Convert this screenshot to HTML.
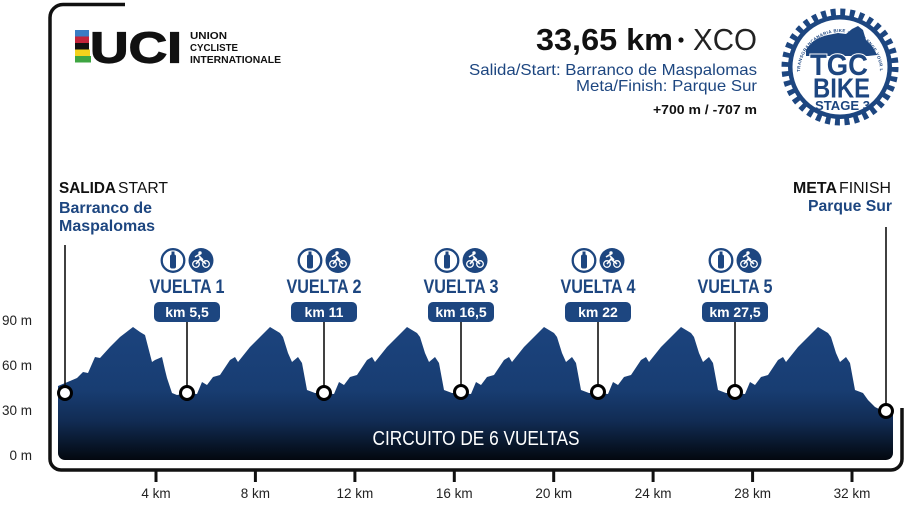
<!DOCTYPE html>
<html>
<head>
<meta charset="utf-8">
<style>
  html,body{margin:0;padding:0;background:#fff;}
  svg{display:block;}
  text{font-family:"Liberation Sans", sans-serif;}
</style>
</head>
<body>
<svg width="909" height="509" viewBox="0 0 909 509" xmlns="http://www.w3.org/2000/svg">
  <defs>
    <linearGradient id="g" x1="0" y1="320" x2="0" y2="460" gradientUnits="userSpaceOnUse">
      <stop offset="0" stop-color="#1c447f"/>
      <stop offset="0.5" stop-color="#183d72"/>
      <stop offset="0.72" stop-color="#112c54"/>
      <stop offset="1" stop-color="#03080f"/>
    </linearGradient>
    <clipPath id="cp">
      <rect x="58" y="290" width="835" height="170" rx="7"/>
    </clipPath>
    <path id="arc" d="M 800 72 A 40 40 0 1 1 880 72"/>
  </defs>

  <!-- frame -->
  <path d="M125 4.5 H63 A13 13 0 0 0 50 17.5 V459 A11 11 0 0 0 61 470 H891 A11 11 0 0 0 902 459 V408" fill="none" stroke="#111" stroke-width="3.5"/>

  <!-- ticks -->
  <g stroke="#111" stroke-width="3">
    <line x1="156" y1="470" x2="156" y2="482"/>
    <line x1="255.4" y1="470" x2="255.4" y2="482"/>
    <line x1="354.9" y1="470" x2="354.9" y2="482"/>
    <line x1="454.3" y1="470" x2="454.3" y2="482"/>
    <line x1="553.7" y1="470" x2="553.7" y2="482"/>
    <line x1="653.1" y1="470" x2="653.1" y2="482"/>
    <line x1="752.6" y1="470" x2="752.6" y2="482"/>
    <line x1="852" y1="470" x2="852" y2="482"/>
  </g>
  <g font-size="13.5" fill="#222" text-anchor="middle">
    <text x="156" y="498">4 km</text>
    <text x="255.4" y="498">8 km</text>
    <text x="354.9" y="498">12 km</text>
    <text x="454.3" y="498">16 km</text>
    <text x="553.7" y="498">20 km</text>
    <text x="653.1" y="498">24 km</text>
    <text x="752.6" y="498">28 km</text>
    <text x="852" y="498">32 km</text>
  </g>
  <g font-size="13.5" fill="#222" text-anchor="end">
    <text x="32" y="325">90 m</text>
    <text x="32" y="370">60 m</text>
    <text x="32" y="415">30 m</text>
    <text x="32" y="460">0 m</text>
  </g>

  <!-- profile -->
  <g clip-path="url(#cp)">
    <path fill="url(#g)" d="M58 386 L70 381 L77 378 L83 372 L88 373 L95 357 L100 358 L110 347 L120 337 L133 327 L140 332 L145 335 L152 362 L155 360 L162 357 L165 370 L167 378 L172 393 L177 395 L187 393
    L197 394 L202 382 L207 385 L213 377 L220 375 L230 360 L235 357 L238 362 L250 347 L260 337 L270 327 L280 333 L283 337 L288 353 L292 362 L298 357 L302 363 L307 390 L315 393 L324 393
    L334 394 L339 382 L344 385 L350 377 L357 375 L367 360 L372 357 L375 362 L387 347 L397 337 L407 327 L417 333 L420 337 L425 353 L429 362 L435 357 L439 363 L444 390 L452 393 L461 393
    L471 394 L476 382 L481 385 L487 377 L494 375 L504 360 L509 357 L512 362 L524 347 L534 337 L544 327 L554 333 L557 337 L562 353 L566 362 L572 357 L576 363 L581 390 L589 393 L598 393
    L608 394 L613 382 L618 385 L624 377 L631 375 L641 360 L646 357 L649 362 L661 347 L671 337 L681 327 L691 333 L694 337 L699 353 L703 362 L709 357 L713 363 L718 390 L726 393 L735 393
    L745 394 L750 382 L755 385 L761 377 L768 375 L778 360 L783 357 L786 362 L798 347 L808 337 L818 327 L828 333 L831 337 L836 353 L840 362 L846 357 L850 363 L855 390 L863 393 L868 400 L875 407 L885 412 L893 413
    L893 470 L58 470 Z"/>
  </g>
  <text x="372.5" y="445" font-size="20" fill="#fff" textLength="207" lengthAdjust="spacingAndGlyphs">CIRCUITO DE 6 VUELTAS</text>

  <!-- marker lines -->
  <g stroke="#111" stroke-width="1.6">
    <line x1="65" y1="245" x2="65" y2="388"/>
    <line x1="187" y1="322" x2="187" y2="388"/>
    <line x1="324" y1="322" x2="324" y2="388"/>
    <line x1="461" y1="322" x2="461" y2="388"/>
    <line x1="598" y1="322" x2="598" y2="388"/>
    <line x1="735" y1="322" x2="735" y2="388"/>
    <line x1="886" y1="227" x2="886" y2="405"/>
  </g>
  <g fill="#fff" stroke="#000" stroke-width="3">
    <circle cx="65" cy="393" r="6.5"/>
    <circle cx="187" cy="393" r="6.5"/>
    <circle cx="324" cy="393" r="6.5"/>
    <circle cx="461" cy="392" r="6.5"/>
    <circle cx="598" cy="392" r="6.5"/>
    <circle cx="735" cy="392" r="6.5"/>
    <circle cx="886" cy="411" r="6.5"/>
  </g>

  <!-- badges -->
  <g fill="#1d4680">
    <rect x="154" y="302" width="66" height="20" rx="5"/>
    <rect x="291" y="302" width="66" height="20" rx="5"/>
    <rect x="428" y="302" width="66" height="20" rx="5"/>
    <rect x="565" y="302" width="66" height="20" rx="5"/>
    <rect x="702" y="302" width="66" height="20" rx="5"/>
  </g>
  <g font-size="14" font-weight="bold" fill="#fff" text-anchor="middle">
    <text x="187" y="317">km 5,5</text>
    <text x="324" y="317">km 11</text>
    <text x="461" y="317">km 16,5</text>
    <text x="598" y="317">km 22</text>
    <text x="735" y="317">km 27,5</text>
  </g>
  <g font-size="19" font-weight="bold" fill="#1d4680">
    <text x="149.5" y="293" textLength="75" lengthAdjust="spacingAndGlyphs">VUELTA 1</text>
    <text x="286.5" y="293" textLength="75" lengthAdjust="spacingAndGlyphs">VUELTA 2</text>
    <text x="423.5" y="293" textLength="75" lengthAdjust="spacingAndGlyphs">VUELTA 3</text>
    <text x="560.5" y="293" textLength="75" lengthAdjust="spacingAndGlyphs">VUELTA 4</text>
    <text x="697.5" y="293" textLength="75" lengthAdjust="spacingAndGlyphs">VUELTA 5</text>
  </g>

  <!-- icons -->
  <g>
    <circle cx="173" cy="260.5" r="11.3" fill="#fff" stroke="#1d4680" stroke-width="2.3"/>
    <rect x="170" y="254.5" width="6" height="14" rx="2" fill="#1d4680"/>
    <rect x="171.5" y="251.5" width="3" height="4" fill="#1d4680"/>
    <circle cx="201" cy="260.5" r="12.5" fill="#1d4680"/>
    <circle cx="196" cy="264" r="3.3" fill="none" stroke="#fff" stroke-width="1.3"/>
    <circle cx="206" cy="264" r="3.3" fill="none" stroke="#fff" stroke-width="1.3"/>
    <path d="M196 264 L200 259 L206 264 M199 256 L203 260 M195 257 L200 254" fill="none" stroke="#fff" stroke-width="1.6"/>
    <circle cx="200" cy="253" r="1.7" fill="#fff"/>
  </g>
  <g transform="translate(137 0)">
    <circle cx="173" cy="260.5" r="11.3" fill="#fff" stroke="#1d4680" stroke-width="2.3"/>
    <rect x="170" y="254.5" width="6" height="14" rx="2" fill="#1d4680"/>
    <rect x="171.5" y="251.5" width="3" height="4" fill="#1d4680"/>
    <circle cx="201" cy="260.5" r="12.5" fill="#1d4680"/>
    <circle cx="196" cy="264" r="3.3" fill="none" stroke="#fff" stroke-width="1.3"/>
    <circle cx="206" cy="264" r="3.3" fill="none" stroke="#fff" stroke-width="1.3"/>
    <path d="M196 264 L200 259 L206 264 M199 256 L203 260 M195 257 L200 254" fill="none" stroke="#fff" stroke-width="1.6"/>
    <circle cx="200" cy="253" r="1.7" fill="#fff"/>
  </g>
  <g transform="translate(274 0)">
    <circle cx="173" cy="260.5" r="11.3" fill="#fff" stroke="#1d4680" stroke-width="2.3"/>
    <rect x="170" y="254.5" width="6" height="14" rx="2" fill="#1d4680"/>
    <rect x="171.5" y="251.5" width="3" height="4" fill="#1d4680"/>
    <circle cx="201" cy="260.5" r="12.5" fill="#1d4680"/>
    <circle cx="196" cy="264" r="3.3" fill="none" stroke="#fff" stroke-width="1.3"/>
    <circle cx="206" cy="264" r="3.3" fill="none" stroke="#fff" stroke-width="1.3"/>
    <path d="M196 264 L200 259 L206 264 M199 256 L203 260 M195 257 L200 254" fill="none" stroke="#fff" stroke-width="1.6"/>
    <circle cx="200" cy="253" r="1.7" fill="#fff"/>
  </g>
  <g transform="translate(411 0)">
    <circle cx="173" cy="260.5" r="11.3" fill="#fff" stroke="#1d4680" stroke-width="2.3"/>
    <rect x="170" y="254.5" width="6" height="14" rx="2" fill="#1d4680"/>
    <rect x="171.5" y="251.5" width="3" height="4" fill="#1d4680"/>
    <circle cx="201" cy="260.5" r="12.5" fill="#1d4680"/>
    <circle cx="196" cy="264" r="3.3" fill="none" stroke="#fff" stroke-width="1.3"/>
    <circle cx="206" cy="264" r="3.3" fill="none" stroke="#fff" stroke-width="1.3"/>
    <path d="M196 264 L200 259 L206 264 M199 256 L203 260 M195 257 L200 254" fill="none" stroke="#fff" stroke-width="1.6"/>
    <circle cx="200" cy="253" r="1.7" fill="#fff"/>
  </g>
  <g transform="translate(548 0)">
    <circle cx="173" cy="260.5" r="11.3" fill="#fff" stroke="#1d4680" stroke-width="2.3"/>
    <rect x="170" y="254.5" width="6" height="14" rx="2" fill="#1d4680"/>
    <rect x="171.5" y="251.5" width="3" height="4" fill="#1d4680"/>
    <circle cx="201" cy="260.5" r="12.5" fill="#1d4680"/>
    <circle cx="196" cy="264" r="3.3" fill="none" stroke="#fff" stroke-width="1.3"/>
    <circle cx="206" cy="264" r="3.3" fill="none" stroke="#fff" stroke-width="1.3"/>
    <path d="M196 264 L200 259 L206 264 M199 256 L203 260 M195 257 L200 254" fill="none" stroke="#fff" stroke-width="1.6"/>
    <circle cx="200" cy="253" r="1.7" fill="#fff"/>
  </g>

  <!-- start / finish labels -->
  <text x="59" y="193" font-size="16" font-weight="bold" fill="#111" textLength="57" lengthAdjust="spacingAndGlyphs">SALIDA</text>
  <text x="118" y="193" font-size="16" fill="#111" textLength="50" lengthAdjust="spacingAndGlyphs">START</text>
  <text x="59" y="213" font-size="15.5" font-weight="bold" fill="#1d4680" textLength="93" lengthAdjust="spacingAndGlyphs">Barranco de</text>
  <text x="59" y="231" font-size="15.5" font-weight="bold" fill="#1d4680" textLength="96" lengthAdjust="spacingAndGlyphs">Maspalomas</text>

  <text x="793" y="193" font-size="16" font-weight="bold" fill="#111" textLength="44" lengthAdjust="spacingAndGlyphs">META</text>
  <text x="839" y="193" font-size="16" fill="#111" textLength="52" lengthAdjust="spacingAndGlyphs">FINISH</text>
  <text x="808" y="211" font-size="15.5" font-weight="bold" fill="#1d4680" textLength="84" lengthAdjust="spacingAndGlyphs">Parque Sur</text>

  <!-- title -->
  <text x="536" y="50" font-size="31" font-weight="bold" fill="#111" textLength="137" lengthAdjust="spacingAndGlyphs">33,65 km</text>
  <circle cx="681" cy="40" r="2.6" fill="#111"/>
  <text x="693" y="50" font-size="31" fill="#222" textLength="64" lengthAdjust="spacingAndGlyphs">XCO</text>
  <text x="469" y="75" font-size="16" fill="#1d4680" textLength="288" lengthAdjust="spacingAndGlyphs">Salida/Start: Barranco de Maspalomas</text>
  <text x="576" y="91" font-size="16" fill="#1d4680" textLength="181" lengthAdjust="spacingAndGlyphs">Meta/Finish: Parque Sur</text>
  <text x="653" y="114" font-size="12.5" font-weight="bold" fill="#111" textLength="104" lengthAdjust="spacingAndGlyphs">+700 m / -707 m</text>

  <!-- UCI logo -->
  <rect x="75" y="30" width="14" height="6.5" fill="#3a7dc4"/>
  <rect x="75" y="36.5" width="14" height="6.5" fill="#c3243a"/>
  <rect x="75" y="43" width="14" height="6.5" fill="#111"/>
  <rect x="75" y="49.5" width="15" height="6.5" fill="#f3d21c"/>
  <rect x="75" y="56" width="16" height="6.5" fill="#3ea542"/>
  <text x="90" y="62.5" font-size="44" font-weight="bold" fill="#111" stroke="#111" stroke-width="1.2" textLength="92" lengthAdjust="spacingAndGlyphs">UCI</text>
  <g font-size="10.5" font-weight="bold" fill="#111">
    <text x="190" y="39" textLength="37" lengthAdjust="spacingAndGlyphs">UNION</text>
    <text x="190" y="51" textLength="48" lengthAdjust="spacingAndGlyphs">CYCLISTE</text>
    <text x="190" y="63" textLength="91" lengthAdjust="spacingAndGlyphs">INTERNATIONALE</text>
  </g>

  <!-- TGC BIKE logo -->
  <circle cx="840" cy="67" r="52" fill="#1d4680"/>
  <circle cx="840" cy="67" r="55" fill="none" stroke="#1d4680" stroke-width="7" stroke-dasharray="5 4.6"/>
  <circle cx="840" cy="67" r="47.5" fill="#fff"/>
  <text font-size="4.4" font-weight="bold" fill="#1d4680" letter-spacing="0.4"><textPath href="#arc">TRANSGRANCANARIA BIKE · CHALLENGE YOUR LIMITS</textPath></text>
  <path d="M806 50 C811 42 818 37 828 35 L838 33 L846 34 L852 29 L858 26 L863 30 L866 40 C871 44 875 50 877 55 L868 56 L806 56 Z" fill="#1d4680"/>
  <text x="810" y="75" font-size="30" font-weight="bold" fill="#1d4680" stroke="#fff" stroke-width="2" paint-order="stroke" textLength="58" lengthAdjust="spacingAndGlyphs">TGC</text>
  <text x="813" y="97.5" font-size="28" font-weight="bold" fill="#1d4680" stroke="#fff" stroke-width="1.5" paint-order="stroke" textLength="57" lengthAdjust="spacingAndGlyphs">BIKE</text>
  <text x="815" y="110" font-size="12.5" font-weight="bold" fill="#1d4680" textLength="55" lengthAdjust="spacingAndGlyphs">STAGE 3</text>
</svg>
</body>
</html>
